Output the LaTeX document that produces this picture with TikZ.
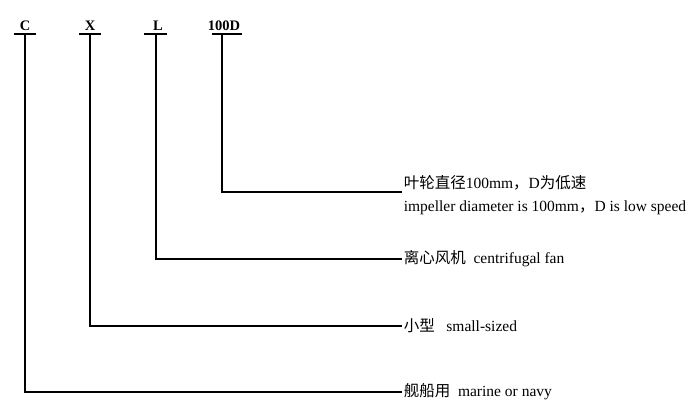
\documentclass[tikz,border=0pt]{standalone}
\usepackage{fontspec}
\setmainfont{Liberation Serif}
\newfontfamily\cjk{Noto Sans CJK SC}
\usepackage{tikz}
\usetikzlibrary{positioning}

\begin{document}
\begin{tikzpicture}[x=1pt, y=-1pt, line width=1.6pt,
    code/.style={font=\bfseries\fontsize{14.5}{17}\selectfont, anchor=south, inner sep=1pt},
    desc/.style={font=\fontsize{15.5}{18}\selectfont, anchor=west, inner sep=1pt}]
    \useasboundingbox (0,0) rectangle (700,417);
            % code letters with their bars
            \node[code] at (25, 32)   (C) {C};
            \node[code] at (90, 32)   (X) {X};
            \node[code] at (158, 32)  (L) {L};
            \node[code] at (224, 32)  (D) {100D};
            \coordinate (bC) at (25, 34);
            \coordinate (bX) at (90, 34);
            \coordinate (bL) at (156, 34);
            \coordinate (bD) at (222, 34);
            \draw (14, 34) -- (36, 34);
            \draw (79, 34) -- (101, 34);
            \draw (144, 34) -- (167, 34);
            \draw (212, 34) -- (242, 34);
            
            % descriptions
            \node[desc] at (402, 183)  (lD) {{\cjk 叶轮直径}100mm{\cjk ，}D{\cjk 为低速}};
            \node[desc, below=7pt of lD.south west, anchor=north west] (lD2) {impeller diameter is 100mm{\cjk ，}D is low speed};
            \node[desc] at (402, 259)  (lL) {{\cjk 离心风机}\ \ centrifugal fan};
            \node[desc] at (402, 326)  (lX) {{\cjk 小型}\ \ \ small-sized};
            \node[desc] at (402, 392)  (lC) {{\cjk 舰船用}\ \ marine or navy};
            
            \draw (bD) |- (lD.south west);
            \draw (bL) |- (lL.west);
            \draw (bX) |- (lX.west);
            \draw (bC) |- (lC.west);
        \end{tikzpicture}
\end{document}
